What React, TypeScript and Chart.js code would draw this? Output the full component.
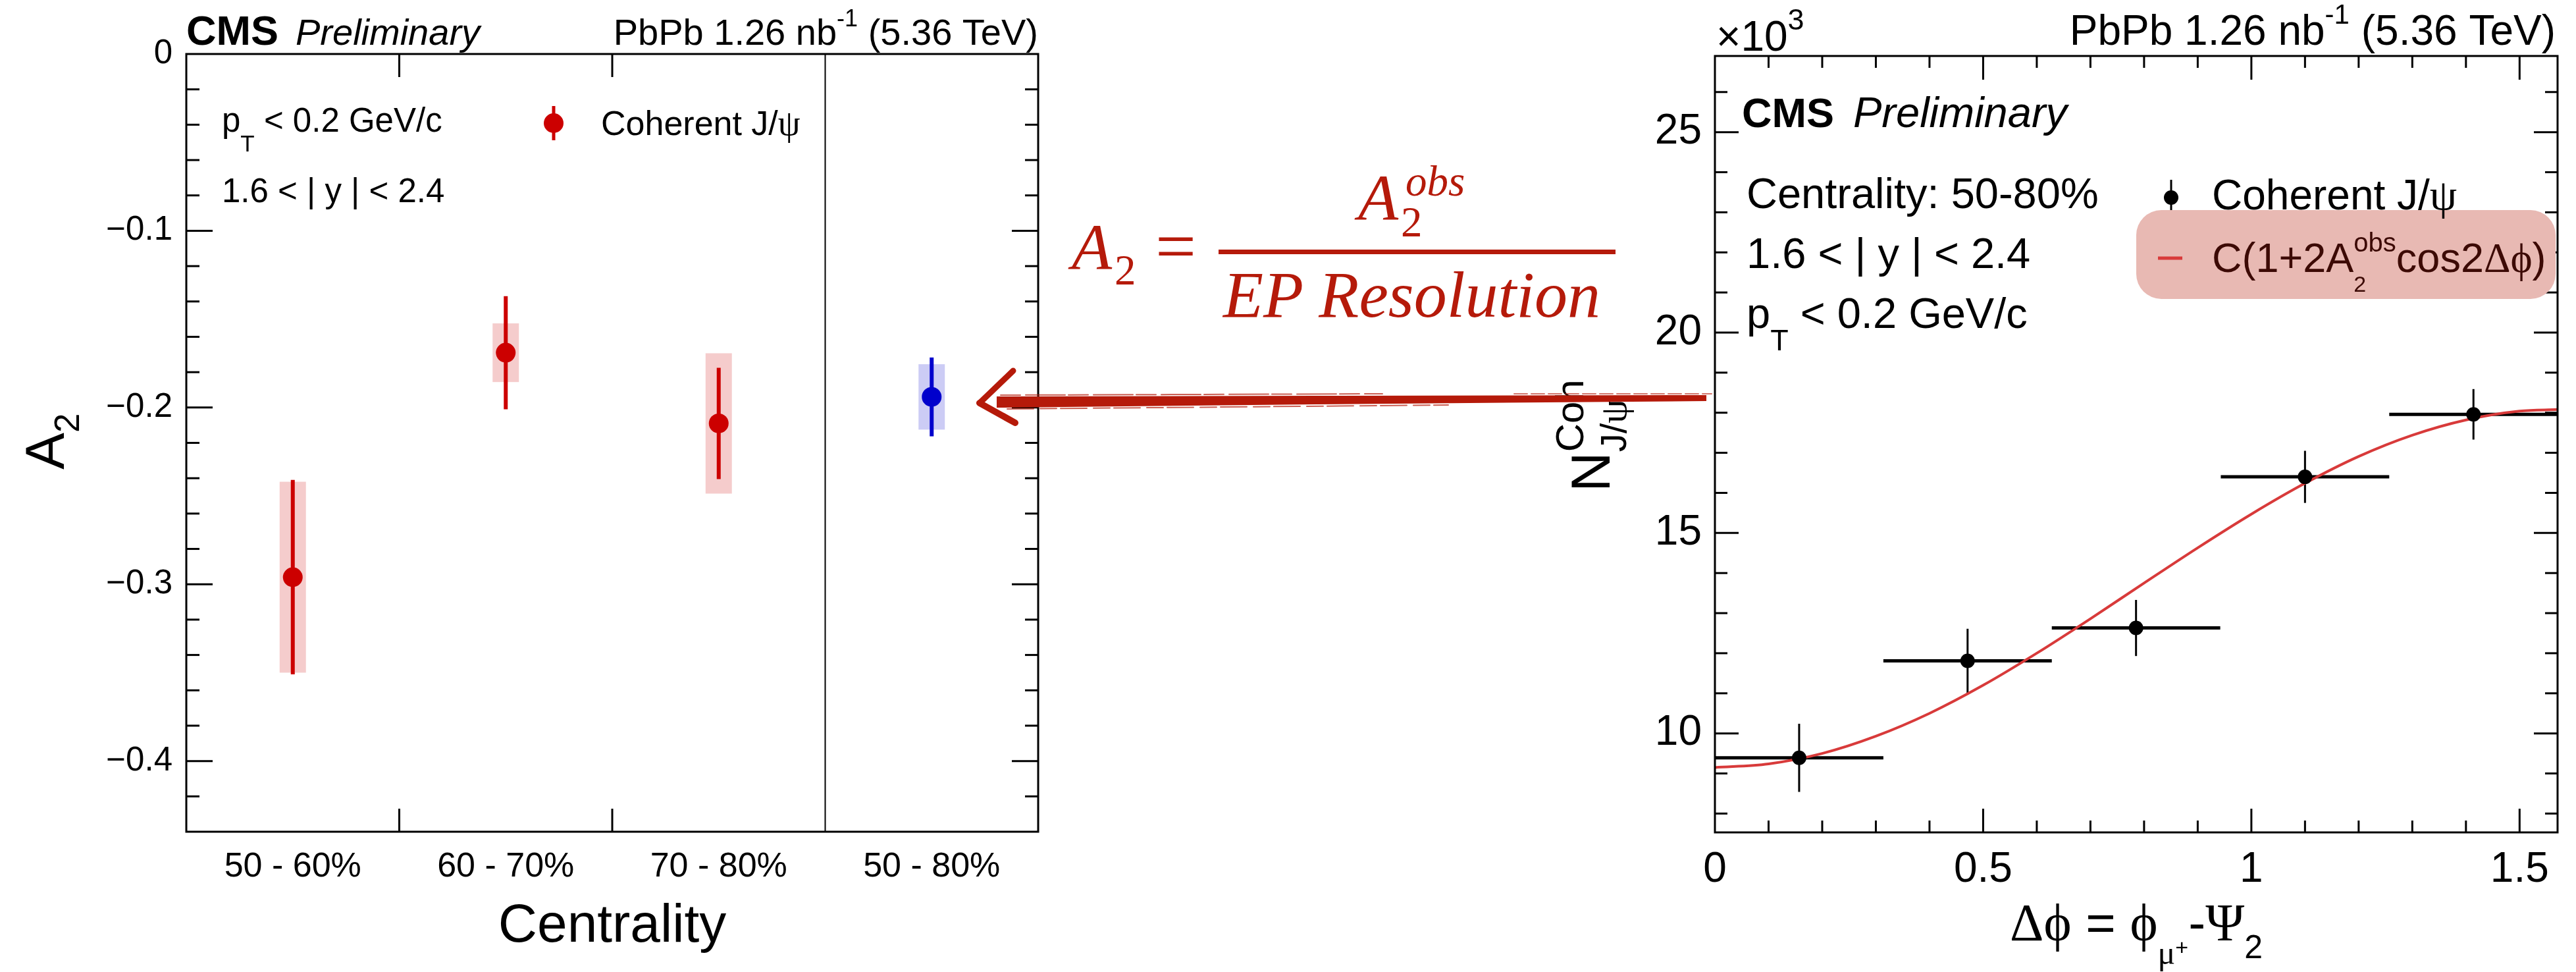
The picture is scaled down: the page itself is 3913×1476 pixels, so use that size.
import React, { useEffect, useRef } from "react";
import { Chart, registerables } from "chart.js";
Chart.register(...registerables);

// ---------------- data ----------------
const CENTRALITY = ["50 - 60%", "60 - 70%", "70 - 80%", "50 - 80%"];
const A2_VALUES = [-0.296, -0.169, -0.209, -0.194];
const A2_STAT = [0.055, 0.032, 0.0315, 0.0223];
const A2_SYST = [0.054, 0.0166, 0.0397, 0.0185];
const A2_COMBINED = [false, false, false, true];

const DPHI_CENTERS = [0.157, 0.471, 0.785, 1.1, 1.414];
const DPHI_HALF = [0.157, 0.157, 0.157, 0.157, 0.157];
const YIELD_K = [9.39, 11.81, 12.63, 16.4, 17.96];
const YIELD_ERR_K = [0.85, 0.8, 0.7, 0.65, 0.63];

const FIT_X = [0, 0.1, 0.2, 0.3, 0.4, 0.5, 0.6, 0.7, 0.8, 0.9, 1.0, 1.1, 1.2, 1.3, 1.4, 1.5, 1.5708];
const FIT_Y = [9.15, 9.24, 9.5, 9.93, 10.5, 11.2, 12.0, 12.86, 13.75, 14.63, 15.47, 16.24, 16.91, 17.44, 17.82, 18.04, 18.08];

const LEFT_Y_MIN = -0.44;
const LEFT_Y_MAX = 0;
const LEFT_Y_STEP = 0.1;
const LEFT_Y_MINOR = 0.02;
const RIGHT_X_MIN = 0;
const RIGHT_X_MAX = 1.5708;
const RIGHT_X_STEP = 0.5;
const RIGHT_X_MINOR = 0.1;
const RIGHT_Y_MIN = 7.53;
const RIGHT_Y_MAX = 26.9;
const RIGHT_Y_STEP = 5;
const RIGHT_Y_MINOR = 1;

// ---------------- style ----------------
const W = 3913;
const H = 1476;
const SANS = '"Liberation Sans", Arial, Helvetica, sans-serif';
const SERIF = '"Liberation Serif", "Times New Roman", serif';
const RED = "#cc0000";
const BLUE = "#0000cc";
const RED_BOX = "rgba(204,0,0,0.2)";
const BLUE_BOX = "rgba(0,0,204,0.2)";
const FIT_RED = "#d83a3a";
const FORMULA_RED = "#b51a0a";
const LEGEND_BOX = "#e8b9b3";
const LEGEND_TEXT = "#3c0a05";

const fnt = (size: number, style = "") => `${style} ${size}px ${SANS}`.trim();
const fntS = (size: number, style = "") => `${style} ${size}px ${SERIF}`.trim();

type Seg = { t: string; font: string; dy?: number; stack?: boolean; unstack?: boolean };

function layoutRich(ctx: CanvasRenderingContext2D, segs: Seg[]) {
  let cx = 0;
  let stackEnd = 0;
  const items: any[] = [];
  for (const s of segs) {
    if (s.unstack) cx = Math.max(cx, stackEnd);
    ctx.font = s.font;
    const w = ctx.measureText(s.t).width;
    items.push({ ...s, x: cx });
    if (s.stack) stackEnd = cx + w;
    else cx += w;
  }
  return { items, width: Math.max(cx, stackEnd) };
}

function drawRich(ctx: CanvasRenderingContext2D, segs: Seg[], x: number, y: number, align = "left", color = "#000") {
  ctx.save();
  ctx.textAlign = "left";
  ctx.textBaseline = "alphabetic";
  ctx.fillStyle = color;
  const { items, width } = layoutRich(ctx, segs);
  const x0 = align === "right" ? x - width : align === "center" ? x - width / 2 : x;
  for (const it of items) {
    ctx.font = it.font;
    ctx.fillText(it.t, x0 + it.x, y + (it.dy || 0));
  }
  ctx.restore();
}

function line(ctx: CanvasRenderingContext2D, x1: number, y1: number, x2: number, y2: number) {
  ctx.beginPath();
  ctx.moveTo(x1, y1);
  ctx.lineTo(x2, y2);
  ctx.stroke();
}

// ---------------- left chart plugin ----------------
const leftPlugin = {
  id: "leftDecor",
  beforeDatasetsDraw(chart: any) {
    const { ctx, scales } = chart;
    const x = scales.x;
    const y = scales.y;
    ctx.save();
    A2_VALUES.forEach((v, i) => {
      const px = x.getPixelForValue(i);
      const comb = A2_COMBINED[i];
      const t = y.getPixelForValue(v + A2_SYST[i]);
      const b = y.getPixelForValue(v - A2_SYST[i]);
      ctx.fillStyle = comb ? BLUE_BOX : RED_BOX;
      ctx.fillRect(px - 20, t, 40, b - t);
      ctx.strokeStyle = comb ? BLUE : RED;
      ctx.lineWidth = 6;
      line(ctx, px, y.getPixelForValue(v + A2_STAT[i]), px, y.getPixelForValue(v - A2_STAT[i]));
    });
    ctx.restore();
  },
  afterDatasetsDraw(chart: any) {
    const { ctx, chartArea: a, scales } = chart;
    const x = scales.x;
    const y = scales.y;
    ctx.save();
    ctx.strokeStyle = "#000";
    ctx.lineWidth = 3;
    ctx.strokeRect(a.left, a.top, a.right - a.left, a.bottom - a.top);
    const nMinor = Math.round((LEFT_Y_MAX - LEFT_Y_MIN) / LEFT_Y_MINOR);
    const perMajor = Math.round(LEFT_Y_STEP / LEFT_Y_MINOR);
    for (let k = 1; k < nMinor; k++) {
      const v = LEFT_Y_MAX - k * LEFT_Y_MINOR;
      const py = y.getPixelForValue(v);
      const len = k % perMajor === 0 ? 40 : 20;
      line(ctx, a.left, py, a.left + len, py);
      line(ctx, a.right, py, a.right - len, py);
    }
    // bin edges
    for (let i = 0; i < CENTRALITY.length - 1; i++) {
      const ex = (x.getPixelForValue(i) + x.getPixelForValue(i + 1)) / 2;
      if (A2_COMBINED[i + 1] && !A2_COMBINED[i]) {
        ctx.lineWidth = 2;
        line(ctx, ex, a.top, ex, a.bottom);
        ctx.lineWidth = 3;
      } else {
        line(ctx, ex, a.top, ex, a.top + 35);
        line(ctx, ex, a.bottom, ex, a.bottom - 35);
      }
    }
    ctx.restore();
  },
  afterDraw(chart: any) {
    const { ctx, chartArea: a } = chart;
    // header
    drawRich(ctx, [{ t: "CMS", font: fnt(63, "bold") }], a.left, 68);
    drawRich(ctx, [{ t: "Preliminary", font: fnt(56, "italic") }], a.left + 166, 68);
    drawRich(
      ctx,
      [
        { t: "PbPb 1.26 nb", font: fnt(56) },
        { t: "-1", font: fnt(36), dy: -28 },
        { t: " (5.36 TeV)", font: fnt(56) },
      ],
      a.right,
      68,
      "right"
    );
    drawRich(
      ctx,
      [
        { t: "p", font: fnt(51) },
        { t: "T", font: fnt(35), dy: 30 },
        { t: " < 0.2 GeV/c", font: fnt(51) },
      ],
      a.left + 54,
      200
    );
    drawRich(ctx, [{ t: "1.6 < | y | < 2.4", font: fnt(51) }], a.left + 54, 307);
    // legend
    ctx.save();
    ctx.strokeStyle = RED;
    ctx.fillStyle = RED;
    ctx.lineWidth = 5;
    line(ctx, 841, 161, 841, 213);
    ctx.beginPath();
    ctx.arc(841, 187, 15, 0, Math.PI * 2);
    ctx.fill();
    ctx.restore();
    drawRich(
      ctx,
      [
        { t: "Coherent J/", font: fnt(52) },
        { t: "ψ", font: fntS(54) },
      ],
      913,
      205
    );
    // axis titles
    drawRich(ctx, [{ t: "Centrality", font: fnt(82) }], (a.left + a.right) / 2, 1430, "center");
    ctx.save();
    ctx.translate(97, 713);
    ctx.rotate(-Math.PI / 2);
    drawRich(
      ctx,
      [
        { t: "A", font: fnt(84) },
        { t: "2", font: fnt(53), dy: 23 },
      ],
      0,
      0
    );
    ctx.restore();
  },
};

// ---------------- right chart plugin ----------------
const rightPlugin = {
  id: "rightDecor",
  beforeDatasetsDraw(chart: any) {
    const { ctx, scales } = chart;
    const x = scales.x;
    const y = scales.y;
    ctx.save();
    ctx.strokeStyle = "#000";
    DPHI_CENTERS.forEach((c, i) => {
      const py = y.getPixelForValue(YIELD_K[i]);
      const px = x.getPixelForValue(c);
      ctx.lineWidth = 5;
      line(ctx, x.getPixelForValue(c - DPHI_HALF[i]), py, x.getPixelForValue(c + DPHI_HALF[i]), py);
      ctx.lineWidth = 3;
      line(ctx, px, y.getPixelForValue(YIELD_K[i] + YIELD_ERR_K[i]), px, y.getPixelForValue(YIELD_K[i] - YIELD_ERR_K[i]));
    });
    ctx.restore();
  },
  afterDatasetsDraw(chart: any) {
    const { ctx, chartArea: a, scales } = chart;
    const x = scales.x;
    const y = scales.y;
    ctx.save();
    ctx.strokeStyle = "#000";
    ctx.lineWidth = 3;
    ctx.strokeRect(a.left, a.top, a.right - a.left, a.bottom - a.top);
    const perMajorX = Math.round(RIGHT_X_STEP / RIGHT_X_MINOR);
    for (let k = 1; RIGHT_X_MIN + k * RIGHT_X_MINOR < RIGHT_X_MAX; k++) {
      const px = x.getPixelForValue(RIGHT_X_MIN + k * RIGHT_X_MINOR);
      const len = k % perMajorX === 0 ? 36 : 18;
      line(ctx, px, a.bottom, px, a.bottom - len);
      line(ctx, px, a.top, px, a.top + len);
    }
    const startY = Math.ceil(RIGHT_Y_MIN / RIGHT_Y_MINOR);
    for (let k = startY; k * RIGHT_Y_MINOR < RIGHT_Y_MAX; k++) {
      const v = k * RIGHT_Y_MINOR;
      const py = y.getPixelForValue(v);
      const len = v % RIGHT_Y_STEP === 0 ? 36 : 19;
      line(ctx, a.left, py, a.left + len, py);
      line(ctx, a.right, py, a.right - len, py);
    }
    ctx.restore();
  },
  afterDraw(chart: any) {
    const { ctx, chartArea: a } = chart;
    drawRich(
      ctx,
      [
        { t: "×10", font: fnt(64) },
        { t: "3", font: fnt(45), dy: -32 },
      ],
      a.left + 2,
      77
    );
    drawRich(
      ctx,
      [
        { t: "PbPb 1.26 nb", font: fnt(64) },
        { t: "-1", font: fnt(42), dy: -32 },
        { t: " (5.36 TeV)", font: fnt(64) },
      ],
      a.right - 3,
      68,
      "right"
    );
    drawRich(ctx, [{ t: "CMS", font: fnt(63, "bold") }], a.left + 41, 193);
    drawRich(ctx, [{ t: "Preliminary", font: fnt(65, "italic") }], a.left + 210, 193);
    drawRich(ctx, [{ t: "Centrality: 50-80%", font: fnt(65) }], a.left + 48, 316);
    drawRich(ctx, [{ t: "1.6 < | y | < 2.4", font: fnt(65) }], a.left + 48, 407);
    drawRich(
      ctx,
      [
        { t: "p", font: fnt(65) },
        { t: "T", font: fnt(45), dy: 34 },
        { t: " < 0.2 GeV/c", font: fnt(65) },
      ],
      a.left + 48,
      498
    );
    // legend entry 1
    ctx.save();
    ctx.strokeStyle = "#000";
    ctx.fillStyle = "#000";
    ctx.lineWidth = 3;
    line(ctx, 3298, 273, 3298, 327);
    ctx.beginPath();
    ctx.arc(3298, 300, 11, 0, Math.PI * 2);
    ctx.fill();
    // legend highlight box
    ctx.fillStyle = LEGEND_BOX;
    ctx.beginPath();
    (ctx as any).roundRect(3245, 319, 637, 135, 38);
    ctx.fill();
    ctx.strokeStyle = FIT_RED;
    ctx.lineWidth = 5;
    line(ctx, 3278, 392, 3315, 392);
    ctx.restore();
    drawRich(
      ctx,
      [
        { t: "Coherent J/", font: fnt(64) },
        { t: "ψ", font: fntS(66) },
      ],
      3360,
      318
    );
    drawRich(
      ctx,
      [
        { t: "C(1+2A", font: fnt(63) },
        { t: "obs", font: fnt(40), dy: -31, stack: true },
        { t: "2", font: fnt(34), dy: 30 },
        { t: "cos2", font: fnt(63), unstack: true },
        { t: "Δϕ", font: fntS(63) },
        { t: ")", font: fnt(63) },
      ],
      3360,
      413,
      "left",
      LEGEND_TEXT
    );
    // x title
    drawRich(
      ctx,
      [
        { t: "Δϕ", font: fntS(80) },
        { t: " = ", font: fnt(78) },
        { t: "ϕ", font: fntS(80) },
        { t: "μ", font: fntS(50), dy: 36 },
        { t: "+", font: fnt(34), dy: 22 },
        { t: "-", font: fnt(78) },
        { t: "Ψ", font: fntS(80) },
        { t: "2", font: fnt(50), dy: 27 },
      ],
      (a.left + a.right) / 2,
      1428,
      "center"
    );
    // y title
    ctx.save();
    ctx.translate(2445, 747);
    ctx.rotate(-Math.PI / 2);
    drawRich(
      ctx,
      [
        { t: "N", font: fnt(84) },
        { t: "Coh", font: fnt(60), dy: -40, stack: true },
        { t: "J/", font: fnt(56), dy: 25 },
        { t: "ψ", font: fntS(58), dy: 25 },
      ],
      0,
      0
    );
    ctx.restore();
  },
};

function LeftChart() {
  const ref = useRef<HTMLCanvasElement>(null);
  useEffect(() => {
    const chart = new Chart(ref.current as HTMLCanvasElement, {
      type: "line",
      data: {
        labels: CENTRALITY,
        datasets: [
          {
            label: "Coherent J/ψ",
            data: A2_VALUES.map((v, i) => (A2_COMBINED[i] ? null : v)),
            showLine: false,
            pointRadius: 15,
            pointBackgroundColor: RED,
            pointBorderColor: RED,
            pointBorderWidth: 0,
          },
          {
            label: "Combined",
            data: A2_VALUES.map((v, i) => (A2_COMBINED[i] ? v : null)),
            showLine: false,
            pointRadius: 15,
            pointBackgroundColor: BLUE,
            pointBorderColor: BLUE,
            pointBorderWidth: 0,
          },
        ],
      },
      options: {
        animation: false,
        responsive: false,
        devicePixelRatio: 1,
        events: [],
        layout: { padding: { left: 0, top: 82, right: W - 1577, bottom: 0 } },
        plugins: { legend: { display: false }, tooltip: { enabled: false } },
        scales: {
          x: {
            type: "category",
            offset: true,
            grid: { display: false },
            border: { display: false },
            ticks: { color: "#000", font: { family: SANS, size: 52 }, padding: 14, maxRotation: 0, autoSkip: false },
            afterFit: (s: any) => {
              s.height = H - 1263;
            },
          },
          y: {
            type: "linear",
            min: LEFT_Y_MIN,
            max: LEFT_Y_MAX,
            grid: { display: false },
            border: { display: false },
            ticks: {
              stepSize: LEFT_Y_STEP,
              includeBounds: false,
              color: "#000",
              padding: 13,
              font: { family: SANS, size: 51 },
              callback: (v: any) => (Math.abs(v) < 1e-9 ? "0" : "\u2212" + Math.abs(v).toFixed(1)),
            },
            afterFit: (s: any) => {
              s.width = 283;
            },
          },
        },
      } as any,
      plugins: [leftPlugin as any],
    });
    return () => chart.destroy();
  }, []);
  return <canvas ref={ref} width={W} height={H} style={{ position: "absolute", left: 0, top: 0, width: W, height: H }} />;
}

function RightChart() {
  const ref = useRef<HTMLCanvasElement>(null);
  useEffect(() => {
    const chart = new Chart(ref.current as HTMLCanvasElement, {
      type: "scatter",
      data: {
        datasets: [
          {
            label: "Coherent J/ψ",
            data: DPHI_CENTERS.map((c, i) => ({ x: c, y: YIELD_K[i] })),
            pointRadius: 11,
            pointBackgroundColor: "#000",
            pointBorderColor: "#000",
            pointBorderWidth: 0,
          },
          {
            label: "fit",
            data: FIT_X.map((v, i) => ({ x: v, y: FIT_Y[i] })),
            showLine: true,
            pointRadius: 0,
            borderColor: FIT_RED,
            borderWidth: 4,
            cubicInterpolationMode: "monotone",
          },
        ],
      },
      options: {
        animation: false,
        responsive: false,
        devicePixelRatio: 1,
        events: [],
        layout: { padding: { left: 2250, top: 85, right: W - 3885, bottom: 0 } },
        plugins: { legend: { display: false }, tooltip: { enabled: false } },
        scales: {
          x: {
            type: "linear",
            min: RIGHT_X_MIN,
            max: RIGHT_X_MAX,
            grid: { display: false },
            border: { display: false },
            ticks: {
              stepSize: RIGHT_X_STEP,
              includeBounds: false,
              color: "#000",
              padding: 11,
              maxRotation: 0,
              font: { family: SANS, size: 64 },
              callback: (v: any) => String(Math.round(v * 10) / 10),
            },
            afterFit: (s: any) => {
              s.height = H - 1264;
            },
          },
          y: {
            type: "linear",
            min: RIGHT_Y_MIN,
            max: RIGHT_Y_MAX,
            grid: { display: false },
            border: { display: false },
            ticks: {
              stepSize: RIGHT_Y_STEP,
              includeBounds: false,
              color: "#000",
              padding: 12,
              font: { family: SANS, size: 64 },
              callback: (v: any) => String(Math.round(v)),
            },
            afterFit: (s: any) => {
              s.width = 2605 - 2250;
            },
          },
        },
      } as any,
      plugins: [rightPlugin as any],
    });
    return () => chart.destroy();
  }, []);
  return <canvas ref={ref} width={W} height={H} style={{ position: "absolute", left: 0, top: 0, width: W, height: H }} />;
}

function Overlay() {
  return (
    <svg width={W} height={H} style={{ position: "absolute", left: 0, top: 0, pointerEvents: "none" }}>
      <g fill={FORMULA_RED} fontFamily={SERIF}>
        <text x={1628} y={409} fontSize={100} fontStyle="italic">A</text>
        <text x={1693} y={432} fontSize={65}>2</text>
        <text x={1755} y={411} fontSize={110}>=</text>
        <rect x={1851} y={379} width={603} height={7} />
        <text x={2063} y={334} fontSize={100} fontStyle="italic">A</text>
        <text x={2128} y={359} fontSize={65}>2</text>
        <text x={2135} y={297} fontSize={65} fontStyle="italic">obs</text>
        <text x={1858} y={481} fontSize={100} fontStyle="italic">EP Resolution</text>
      </g>
      <g stroke={FORMULA_RED} fill="none" strokeLinecap="round">
        <polygon points="1514,602 2000,601 2592,600 2592,609 2000,614 1514,619" fill={FORMULA_RED} stroke="none" />
        <line x1={1520} y1={600} x2={2100} y2={598} strokeWidth={2} strokeDasharray="30 8 60 5" opacity={0.7} />
        <line x1={1530} y1={621} x2={2200} y2={615} strokeWidth={2} strokeDasharray="40 10 25 6" opacity={0.7} />
        <line x1={2300} y1={598} x2={2600} y2={598} strokeWidth={2} strokeDasharray="20 6" opacity={0.6} />
        <line x1={1488} y1={612} x2={1539} y2={563} strokeWidth={9} />
        <line x1={1488} y1={612} x2={1542} y2={642} strokeWidth={10} />
      </g>
    </svg>
  );
}

export default function App() {
  return (
    <div style={{ position: "absolute", left: 0, top: 0, width: W, height: H, background: "#fff", overflow: "hidden" }}>
      <LeftChart />
      <RightChart />
      <Overlay />
    </div>
  );
}
